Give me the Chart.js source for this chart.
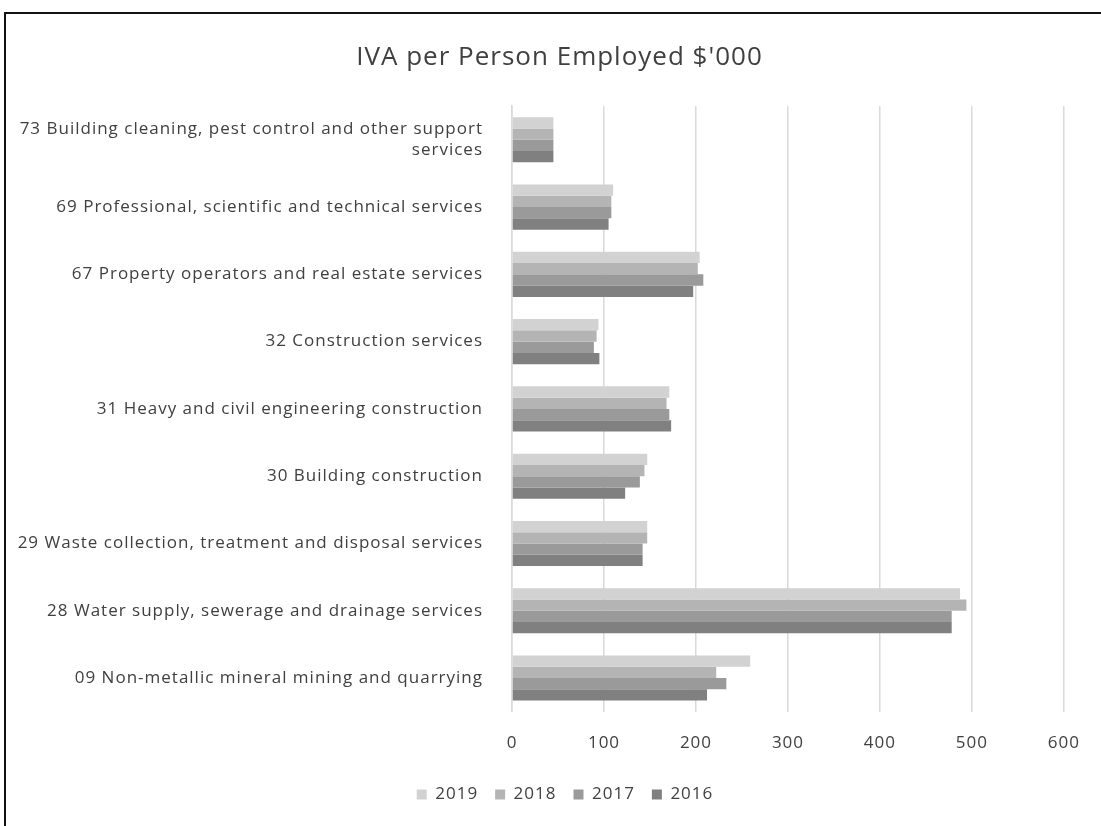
<!DOCTYPE html>
<html>
<head>
<meta charset="utf-8">
<script src="https://cdn.jsdelivr.net/npm/chart.js@4.4.1/dist/chart.umd.min.js"></script>
<style>
  html, body { margin: 0; padding: 0; background: #fff; }
  #wrap { position: absolute; left: 0; top: 0; width: 1101px; height: 826px; }
  #frame { position: absolute; left: 4px; top: 12px; width: 1120px; height: 830px;
           border-left: 2px solid #111; border-top: 2px solid #111; pointer-events: none; }
</style>
</head>
<body>
<div id="wrap"><canvas id="chart"></canvas></div>
<div id="frame"></div>
<script>
// industries, top to bottom as shown
const categories = [
  ['73 Building cleaning, pest control and other support', 'services'],
  '69 Professional, scientific and technical services',
  '67 Property operators and real estate services',
  '32 Construction services',
  '31 Heavy and civil engineering construction',
  '30 Building construction',
  '29 Waste collection, treatment and disposal services',
  '28 Water supply, sewerage and drainage services',
  '09 Non-metallic mineral mining and quarrying'
];

const years = ['2019', '2018', '2017', '2016'];

// IVA per person employed, $'000
const iva2019 = [45, 110, 204, 94, 171, 147, 147, 487, 259];
const iva2018 = [45, 108, 202, 92, 168, 144, 147, 494, 222];
const iva2017 = [45, 108, 208, 89, 171, 139, 142, 478, 233];
const iva2016 = [45, 105, 197, 95, 173, 123, 142, 478, 212];

const xTicks = [0, 100, 200, 300, 400, 500, 600];

const greys = ['#d2d2d2', '#b4b4b4', '#9a9a9a', '#808080'];
const series = [iva2019, iva2018, iva2017, iva2016];

const txt = '#404040';
const fontFam = '"Open Sans", "Liberation Sans", sans-serif';

// the original text is loosely spaced, so widen it a bit
const spacing = {
  id: 'spacing',
  beforeUpdate: (chart) => { chart.ctx.letterSpacing = '1px'; },
  beforeDraw: (chart) => { chart.ctx.letterSpacing = '1px'; }
};

// title and legend sit a little right of the canvas centre in the original
const shiftBlocks = {
  id: 'shiftBlocks',
  afterLayout: (chart) => {
    if (chart.titleBlock) { chart.titleBlock.left = 46; chart.titleBlock.right = 1073; }
    if (chart.legend) {
      chart.legend.left = 57;
      chart.legend.right = 1073;
      chart.legend.top -= 5;
      chart.legend.bottom -= 5;
    }
  }
};

const ctx = document.getElementById('chart').getContext('2d');
new Chart(ctx, {
  type: 'bar',
  data: {
    labels: categories,
    datasets: years.map((y, i) => ({
      label: y,
      data: series[i],
      backgroundColor: greys[i],
      borderWidth: 0,
      categoryPercentage: 0.67,
      barPercentage: 1.0
    }))
  },
  plugins: [spacing, shiftBlocks],
  options: {
    indexAxis: 'y',
    responsive: true,
    maintainAspectRatio: false,
    animation: false,
    layout: { padding: { left: 0, right: 28, top: 0, bottom: 8 } },
    plugins: {
      title: {
        display: true,
        text: "IVA per Person Employed $'000",
        color: txt,
        font: { family: fontFam, size: 26, weight: 'normal' },
        padding: { top: 42, bottom: 33 }
      },
      legend: {
        position: 'bottom',
        labels: {
          color: txt,
          font: { family: fontFam, size: 17 },
          boxWidth: 10,
          boxHeight: 10,
          padding: 17
        }
      },
      tooltip: { enabled: false }
    },
    scales: {
      x: {
        min: 0,
        max: 600,
        afterBuildTicks: (scale) => { scale.ticks = xTicks.map(v => ({ value: v })); },
        grid: { color: '#d9d9d9', lineWidth: 1.5, drawTicks: false },
        border: { display: false },
        ticks: { color: txt, font: { family: fontFam, size: 17 }, padding: 21 }
      },
      y: {
        afterFit: (scale) => { scale.width = 512; },
        grid: { display: false },
        border: { color: '#d9d9d9', width: 1.5 },
        ticks: { color: txt, font: { family: fontFam, size: 17 }, padding: 21, autoSkip: false }
      }
    }
  }
});
</script>
</body>
</html>
